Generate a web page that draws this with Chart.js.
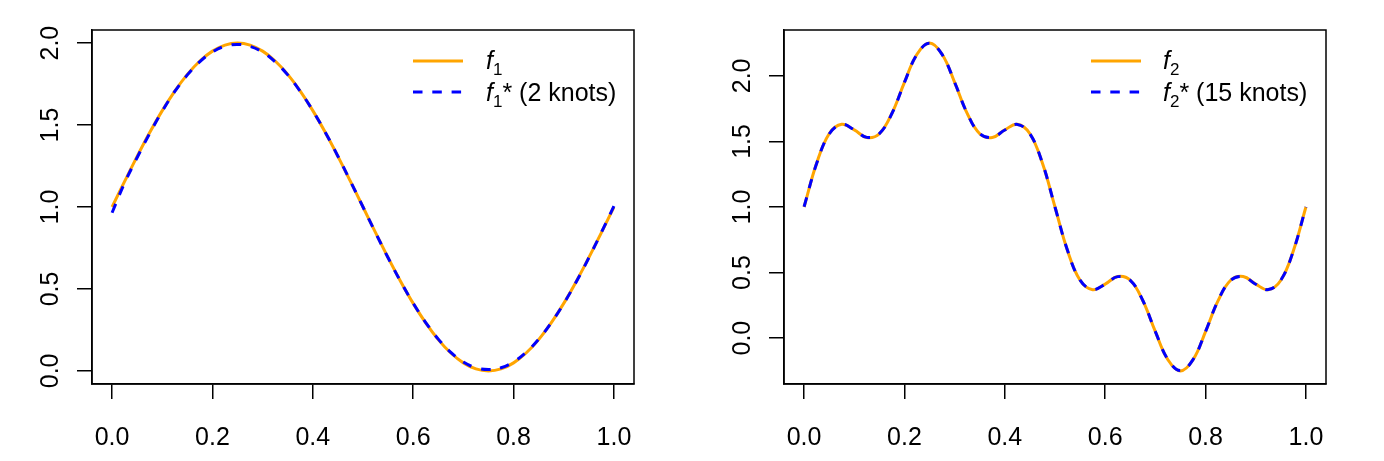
<!DOCTYPE html>
<html>
<head>
<meta charset="utf-8">
<script src="https://cdn.jsdelivr.net/npm/chart.js@4"></script>
<style>
    body { margin: 0; background: #fff; width: 1384px; height: 461px; overflow: hidden; position: relative; font-family: "Liberation Sans", Arial, sans-serif; }
    canvas { position: absolute; top: 0; }
    .row { position: absolute; height: 30px; line-height: 30px; font-size: 25px; color: #000; white-space: nowrap; }
    .row sub { font-size: 17px; vertical-align: -6px; line-height: 0; }
    .key { position: absolute; }
</style>
</head>
<body>
<canvas id="chart1" width="692" height="461" style="left:0px"></canvas>
<canvas id="chart2" width="692" height="461" style="left:692px"></canvas>

<svg class="key" style="left:413px; top:56px" width="52" height="42">
    <line x1="0" y1="5" x2="50" y2="5" stroke="#FFA500" stroke-width="3"></line>
    <line x1="0" y1="36" x2="50" y2="36" stroke="#0000FF" stroke-width="3" stroke-dasharray="9.5,9.8"></line>
</svg>
<div class="row" style="left:486px; top:45px"><i>f</i><sub>1</sub></div>
<div class="row" style="left:486px; top:77px"><i>f</i><sub>1</sub>* (2 knots)</div>

<svg class="key" style="left:1091px; top:56px" width="52" height="42">
    <line x1="0" y1="5" x2="50" y2="5" stroke="#FFA500" stroke-width="3"></line>
    <line x1="0" y1="36" x2="50" y2="36" stroke="#0000FF" stroke-width="3" stroke-dasharray="9.5,9.8"></line>
</svg>
<div class="row" style="left:1163px; top:45px"><i>f</i><sub>2</sub></div>
<div class="row" style="left:1163px; top:77px"><i>f</i><sub>2</sub>* (15 knots)</div>

<script>
const xValues = [
    0, 0.025, 0.05, 0.075, 0.1, 0.125, 0.15, 0.175, 0.2, 0.225,
    0.25, 0.275, 0.3, 0.325, 0.35, 0.375, 0.4, 0.425, 0.45, 0.475,
    0.5, 0.525, 0.55, 0.575, 0.6, 0.625, 0.65, 0.675, 0.7, 0.725,
    0.75, 0.775, 0.8, 0.825, 0.85, 0.875, 0.9, 0.925, 0.95, 0.975, 1
];

const f1 = [
    1.000, 1.156, 1.309, 1.454, 1.588, 1.707, 1.809, 1.891, 1.951, 1.988,
    2.000, 1.988, 1.951, 1.891, 1.809, 1.707, 1.588, 1.454, 1.309, 1.156,
    1.000, 0.844, 0.691, 0.546, 0.412, 0.293, 0.191, 0.109, 0.049, 0.012,
    0.000, 0.012, 0.049, 0.109, 0.191, 0.293, 0.412, 0.546, 0.691, 0.844, 1.000
];
const f1Star = [
    0.965, 1.147, 1.302, 1.449, 1.585, 1.705, 1.806, 1.887, 1.946, 1.981,
    1.992, 1.980, 1.945, 1.886, 1.806, 1.705, 1.588, 1.455, 1.310, 1.157,
    1.000, 0.843, 0.690, 0.545, 0.413, 0.295, 0.194, 0.113, 0.054, 0.019,
    0.008, 0.019, 0.055, 0.113, 0.193, 0.294, 0.411, 0.544, 0.690, 0.845, 1.005
];

const f2 = [
    1.000, 1.333, 1.559, 1.631, 1.588, 1.530, 1.559, 1.714, 1.951, 2.165,
    2.250, 2.165, 1.951, 1.714, 1.559, 1.530, 1.588, 1.631, 1.559, 1.333,
    1.000, 0.667, 0.441, 0.369, 0.412, 0.470, 0.441, 0.286, 0.049, -0.165,
    -0.250, -0.165, 0.049, 0.286, 0.441, 0.470, 0.412, 0.369, 0.441, 0.667, 1.000
];
const f2Star = [
    1.002, 1.331, 1.557, 1.630, 1.589, 1.531, 1.560, 1.713, 1.950, 2.164,
    2.248, 2.164, 1.951, 1.715, 1.560, 1.531, 1.587, 1.630, 1.558, 1.334,
    1.000, 0.668, 0.442, 0.370, 0.411, 0.469, 0.440, 0.287, 0.050, -0.163,
    -0.247, -0.164, 0.050, 0.287, 0.440, 0.469, 0.411, 0.370, 0.442, 0.666, 1.001
];

const xTicks = [0, 0.2, 0.4, 0.6, 0.8, 1.0];
const yTicks1 = [0, 0.5, 1.0, 1.5, 2.0];
const yTicks2 = [0, 0.5, 1.0, 1.5, 2.0];

const font = { family: '"Liberation Sans", Arial, sans-serif', size: 25 };

// draws the closed frame round the plot region, like R's box()
const boxPlugin = {
    id: 'box',
    afterDraw(chart) {
        const a = chart.chartArea;
        const ctx = chart.ctx;
        ctx.save();
        ctx.strokeStyle = '#000';
        ctx.lineWidth = 1.5;
        ctx.strokeRect(a.left, a.top, a.right - a.left, a.bottom - a.top);
        ctx.restore();
    }
};

function toPoints(ys) {
    return ys.map((y, i) => ({ x: xValues[i], y: y }));
}

function makeChart(id, fit, fitStar, yMin, yMax, yTicks) {
    const ctx = document.getElementById(id).getContext('2d');
    return new Chart(ctx, {
        type: 'line',
        data: {
            datasets: [{
                data: toPoints(fitStar),
                borderColor: '#0000FF',
                borderWidth: 3,
                borderDash: [9.5, 9.8],
                pointRadius: 0,
                tension: 0.4,
                order: 0
            }, {
                data: toPoints(fit),
                borderColor: '#FFA500',
                borderWidth: 3,
                pointRadius: 0,
                tension: 0.4,
                order: 1
            }]
        },
        options: {
            responsive: false,
            animation: false,
            events: [],
            layout: { padding: { left: 0, top: 30, right: 58, bottom: 0 } },
            plugins: { legend: { display: false }, tooltip: { enabled: false } },
            scales: {
                x: {
                    type: 'linear',
                    min: -0.04,
                    max: 1.04,
                    afterBuildTicks: scale => { scale.ticks = xTicks.map(v => ({ value: v })); },
                    afterFit: scale => { scale.height = 77; },
                    grid: { drawOnChartArea: false, tickLength: 15, color: '#000', lineWidth: 1.5 },
                    border: { color: '#000', width: 1.5 },
                    ticks: {
                        font: font,
                        color: '#000',
                        padding: 24,
                        maxRotation: 0,
                        callback: v => v.toFixed(1)
                    }
                },
                y: {
                    type: 'linear',
                    min: yMin,
                    max: yMax,
                    afterBuildTicks: scale => { scale.ticks = yTicks.map(v => ({ value: v })); },
                    afterFit: scale => { scale.width = 92; },
                    grid: { drawOnChartArea: false, tickLength: 15, color: '#000', lineWidth: 1.5 },
                    border: { color: '#000', width: 1.5 },
                    ticks: {
                        font: font,
                        color: '#000',
                        padding: 9,
                        minRotation: 90,
                        maxRotation: 90,
                        crossAlign: 'center',
                        callback: v => v.toFixed(1)
                    }
                }
            }
        },
        plugins: [boxPlugin]
    });
}

makeChart('chart1', f1, f1Star, -0.08, 2.08, yTicks1);
makeChart('chart2', f2, f2Star, -0.35, 2.35, yTicks2);
</script>
</body>
</html>
